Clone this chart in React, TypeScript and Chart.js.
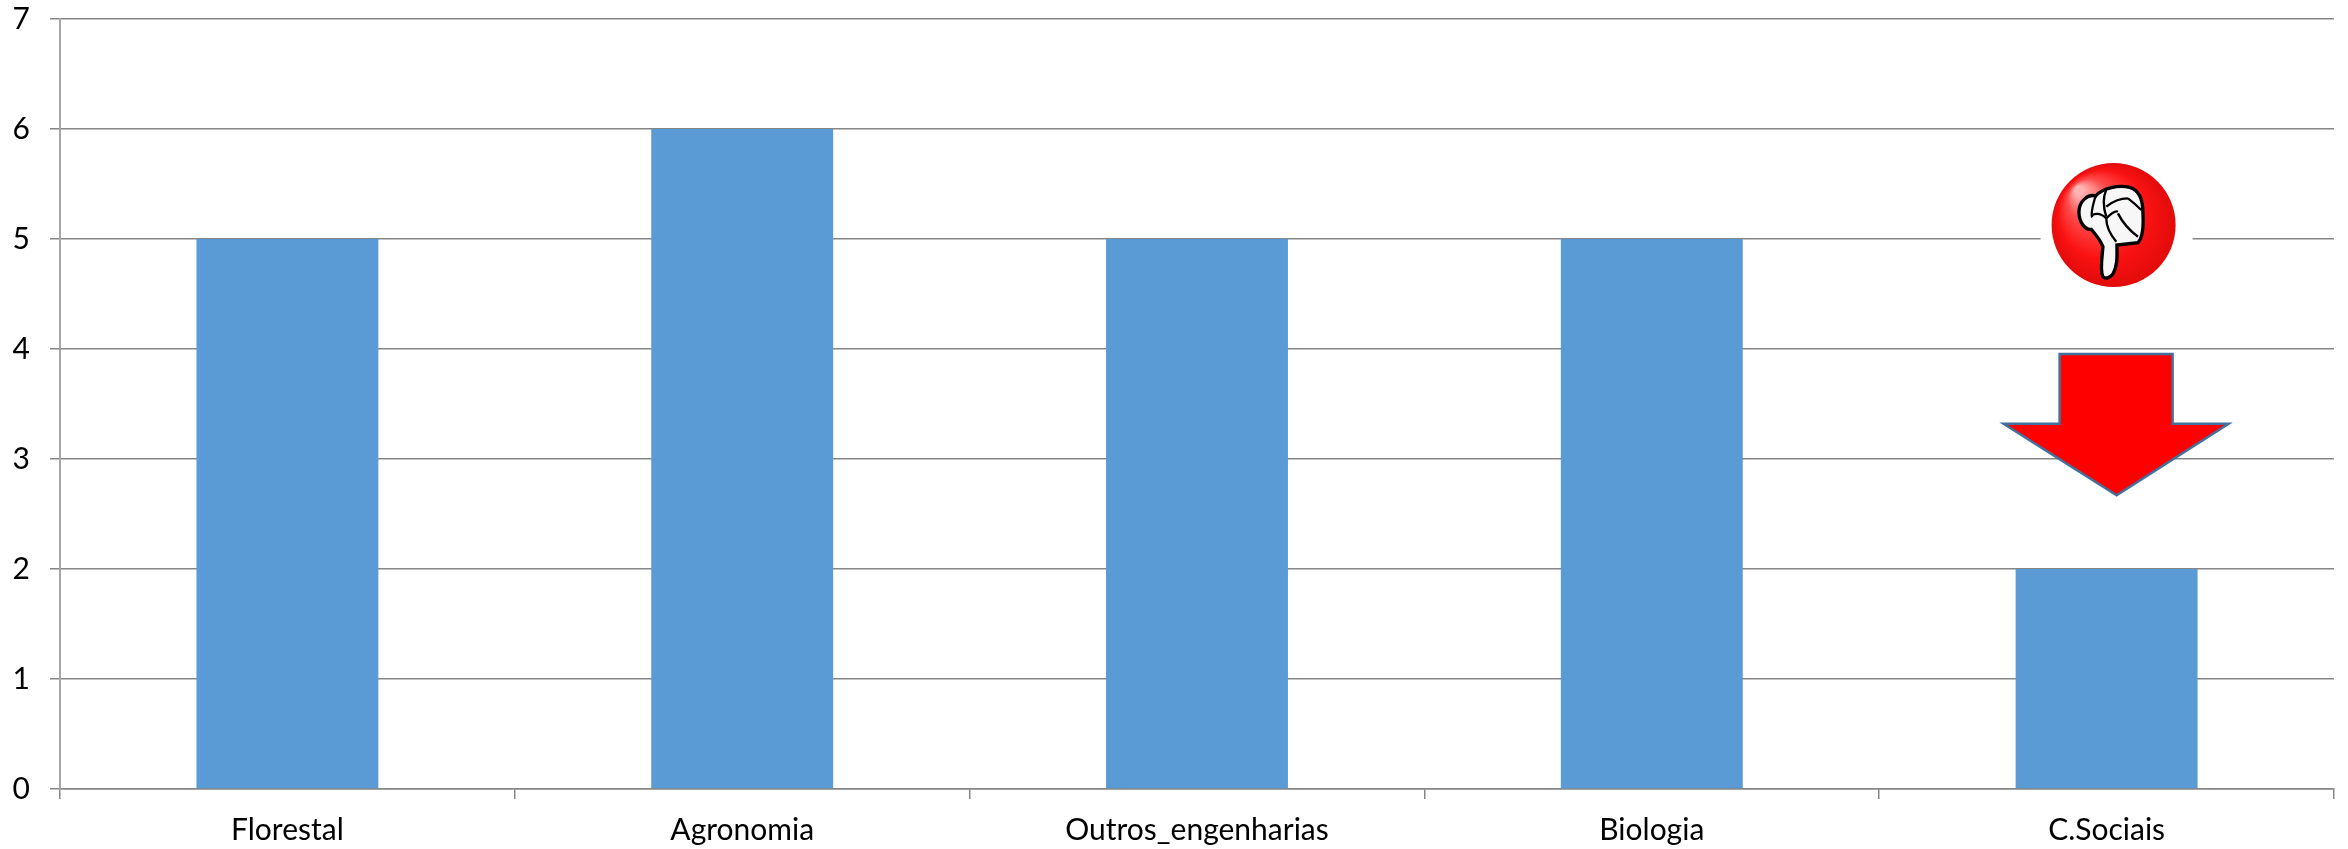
import React, { useEffect, useRef } from "react";
import { Chart, registerables } from "chart.js";

Chart.register(...registerables);

const categories = ["Florestal", "Agronomia", "Outros_engenharias", "Biologia", "C.Sociais"];
const values = [5, 6, 5, 5, 2];
const yTicks = [0, 1, 2, 3, 4, 5, 6, 7];
const arrowCategoryIndex = 4;
// Callout positions, in value units on the y axis
const arrowTopValue = 3.955;
const arrowShoulderValue = 3.32;
const arrowTipValue = 2.67;
const iconCenterValue = 5.127;

const calloutPlugin = {
  id: "callout",
  afterDatasetsDraw(chart: any) {
    const { ctx, scales } = chart;
    const x = scales.x;
    const y = scales.y;
    const cx = x.getPixelForValue(arrowCategoryIndex) + 10;
    const ctop = y.getPixelForValue(arrowTopValue);
    const cshoulder = y.getPixelForValue(arrowShoulderValue);
    const ctip = y.getPixelForValue(arrowTipValue);

    ctx.save();
    ctx.beginPath();
    ctx.moveTo(cx - 57, ctop);
    ctx.lineTo(cx + 56, ctop);
    ctx.lineTo(cx + 56, cshoulder);
    ctx.lineTo(cx + 112, cshoulder);
    ctx.lineTo(cx, ctip);
    ctx.lineTo(cx - 113, cshoulder);
    ctx.lineTo(cx - 57, cshoulder);
    ctx.closePath();
    ctx.fillStyle = "#ff0000";
    ctx.fill();
    ctx.lineWidth = 2.5;
    ctx.strokeStyle = "#41719c";
    ctx.lineJoin = "miter";
    ctx.stroke();

    const ix = x.getPixelForValue(arrowCategoryIndex) + 7;
    const iy = y.getPixelForValue(iconCenterValue);
    ctx.fillStyle = "#ffffff";
    ctx.fillRect(ix - 73, iy - 70, 152, 140);

    const g = ctx.createRadialGradient(ix - 35, iy - 35, 4, ix, iy, 62);
    g.addColorStop(0, "#ffb4b4");
    g.addColorStop(0.3, "#ff4a4a");
    g.addColorStop(0.7, "#fa1212");
    g.addColorStop(1, "#e20b0b");
    ctx.beginPath();
    ctx.arc(ix, iy, 62, 0, Math.PI * 2);
    ctx.fillStyle = g;
    ctx.fill();

    ctx.translate(ix, iy);
    ctx.scale(1 / 3, 1 / 3);
    ctx.translate(-462, -285);
    ctx.beginPath();
    ctx.moveTo(430, 440);
    ctx.bezierCurveTo(420, 420, 428, 380, 430, 350);
    ctx.bezierCurveTo(420, 325, 405, 310, 395, 298);
    ctx.bezierCurveTo(375, 300, 358, 275, 358, 245);
    ctx.bezierCurveTo(358, 215, 385, 190, 408, 198);
    ctx.bezierCurveTo(430, 172, 480, 165, 510, 172);
    ctx.bezierCurveTo(540, 180, 550, 215, 550, 250);
    ctx.bezierCurveTo(552, 285, 552, 320, 535, 338);
    ctx.lineTo(472, 345);
    ctx.bezierCurveTo(472, 375, 475, 405, 460, 432);
    ctx.bezierCurveTo(450, 445, 438, 447, 430, 440);
    ctx.closePath();
    ctx.fillStyle = "#f7f7f7";
    ctx.fill();
    ctx.lineWidth = 10;
    ctx.strokeStyle = "#000000";
    ctx.stroke();
    ctx.lineWidth = 7;
    const strokes = [
      [408, 198, 392, 250, 398, 262],
      [440, 178, 425, 215, 440, 260],
      [398, 255, 420, 245, 440, 265],
      [440, 230, 470, 205, 505, 205],
      [505, 205, 525, 220, 545, 240],
      [440, 265, 465, 240, 475, 245],
      [475, 250, 495, 290, 535, 320],
      [440, 265, 440, 300, 470, 335],
    ];
    for (const [a, b, c, d, e, f] of strokes) {
      ctx.beginPath();
      ctx.moveTo(a, b);
      ctx.quadraticCurveTo(c, d, e, f);
      ctx.stroke();
    }
    ctx.restore();
  },
};

export default function App() {
  const ref = useRef<HTMLCanvasElement>(null);
  useEffect(() => {
    document.body.style.margin = "0";
    document.body.style.overflow = "hidden";
    const chart = new Chart(ref.current as HTMLCanvasElement, {
      type: "bar",
      data: {
        labels: categories,
        datasets: [
          {
            data: values,
            backgroundColor: "#5b9bd5",
            borderWidth: 0,
            barPercentage: 0.4,
            categoryPercentage: 1,
          },
        ],
      },
      options: {
        animation: false,
        responsive: false,
        layout: { padding: { top: 19, right: 14, left: 0, bottom: 0 } },
        plugins: { legend: { display: false }, tooltip: { enabled: false } },
        scales: {
          x: {
            offset: true,
            afterFit: (s: any) => {
              s.height = 60;
              s.paddingLeft = 0;
              s.paddingRight = 0;
            },
            grid: {
              offset: true,
              drawOnChartArea: false,
              drawTicks: true,
              tickLength: 10,
              color: "#868686",
              lineWidth: 1.5,
            },
            border: { color: "#868686", width: 1.5 },
            ticks: {
              color: "#000000",
              padding: 13,
              maxRotation: 0,
              font: { family: "Lato", size: 30 },
            },
          },
          y: {
            min: 0,
            max: 7,
            afterFit: (s: any) => {
              s.width = 60;
              s.paddingTop = 0;
              s.paddingBottom = 0;
            },
            afterBuildTicks: (s: any) => {
              s.ticks = yTicks.map((value) => ({ value }));
            },
            grid: {
              color: "#868686",
              lineWidth: 1.5,
              tickLength: 10,
            },
            border: { color: "#a6a6a6", width: 2 },
            ticks: {
              color: "#000000",
              padding: 20,
              font: { family: "Lato", size: 30 },
            },
          },
        },
      },
      plugins: [calloutPlugin],
    } as any);
    return () => chart.destroy();
  }, []);
  return <canvas ref={ref} width={2348} height={849} style={{ display: "block" }} />;
}
